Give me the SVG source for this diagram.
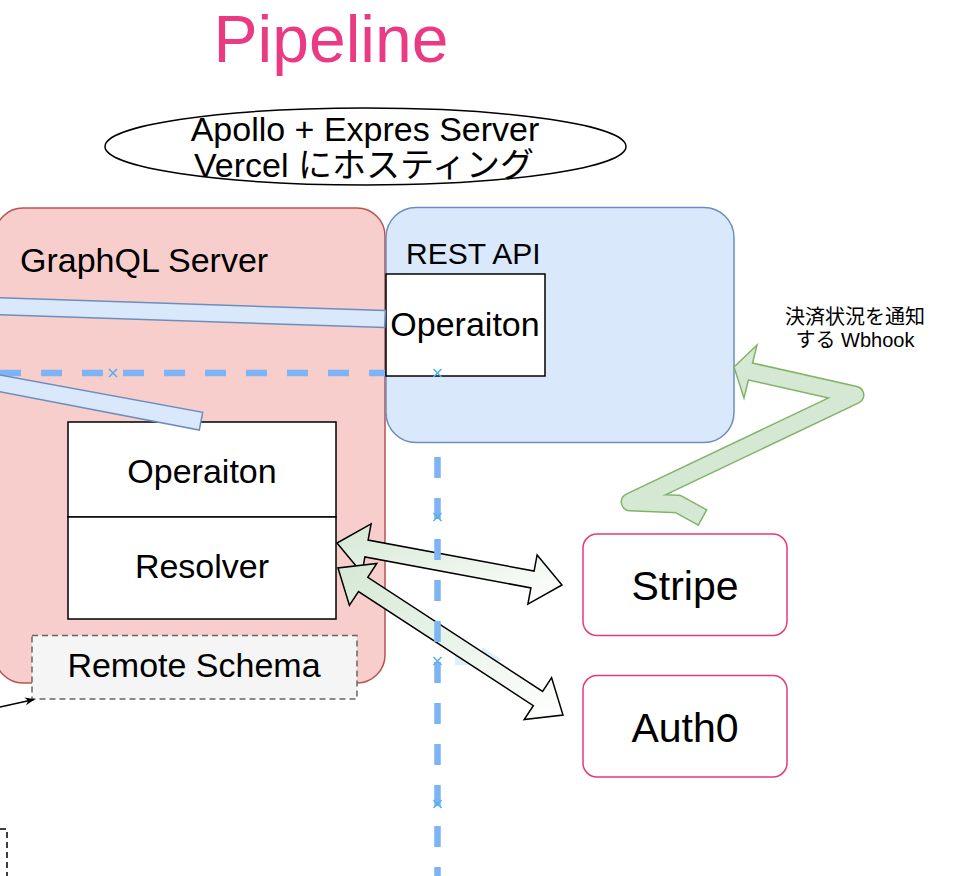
<svg xmlns="http://www.w3.org/2000/svg" width="972" height="876" viewBox="0 0 972 876">
<style>
text{font-family:"Liberation Sans","Noto Sans CJK JP",Arial,sans-serif;fill:#000}
.lbl{font-size:34px;text-anchor:middle}
.box{fill:#fff;stroke:#000;stroke-width:1.5}
.ext{fill:#fff;stroke:#E6397F;stroke-width:1.5}
.link{fill:#dae8fc;stroke:#6c8ebf;stroke-width:1.5}
.dash{stroke:#7db4f5;stroke-width:6.5;stroke-dasharray:21 20;fill:none}
.xm{stroke:#4fb0ec;stroke-width:1.5;fill:none}
.flex{stroke:#000;stroke-width:1.5;fill:url(#g)}
</style>
<defs>
<linearGradient id="g" x1="0" y1="0" x2="1" y2="1">
<stop offset="0" stop-color="#d5e8d4"/>
<stop offset="1" stop-color="#ffffff"/>
</linearGradient>
<path id="x" d="M-4 -4L4 4M4 -4L-4 4"/>
<marker id="ah" viewBox="0 0 10 10" refX="9" refY="5" markerWidth="10" markerHeight="10" markerUnits="userSpaceOnUse" orient="auto">
<path d="M0 1L10 5L0 9L3 5Z" fill="#000"/>
</marker>
</defs>

<g id="title">
<text x="331" y="62" style="font-size:66px;fill:#EA3A84;text-anchor:middle">Pipeline</text>
</g>

<g id="hosting">
<ellipse cx="365.5" cy="146.5" rx="260.5" ry="38.5" fill="#fff" stroke="#000" stroke-width="1.5"/>
<text class="lbl" x="365" y="141">Apollo + Expres Server</text>
<text class="lbl" x="364" y="177">Vercel にホスティング</text>
</g>

<g id="graphql-server">
<rect x="-5" y="208" width="390" height="475" rx="28" fill="#f8cecc" stroke="#b85450" stroke-width="1.5"/>
<text x="20" y="272" style="font-size:34px">GraphQL Server</text>
</g>

<g id="rest-api">
<rect x="386" y="207.5" width="348" height="235" rx="30" fill="#dae8fc" stroke="#6c8ebf" stroke-width="1.5"/>
<text x="406" y="264" style="font-size:30px">REST API</text>
</g>

<g id="rest-operation">
<rect class="box" x="386" y="274" width="159" height="102"/>
<text class="lbl" x="465" y="336">Operaiton</text>
</g>

<g id="gql-operation">
<rect class="box" x="68" y="422" width="268" height="95"/>
<text class="lbl" x="202" y="483">Operaiton</text>
</g>
<g id="gql-resolver">
<rect class="box" x="68" y="517" width="268" height="102"/>
<text class="lbl" x="202" y="578">Resolver</text>
</g>

<g id="remote-schema">
<rect x="32" y="635.5" width="325" height="63.5" fill="#f5f5f5" stroke="#666" stroke-width="1.5" stroke-dasharray="6 4"/>
<text class="lbl" x="194" y="677">Remote Schema</text>
</g>

<g id="stripe">
<rect class="ext" x="583" y="534" width="204" height="101.5" rx="14"/>
<text x="685" y="600" style="font-size:41px;text-anchor:middle">Stripe</text>
</g>
<g id="auth0">
<rect class="ext" x="583" y="675.5" width="204" height="101.5" rx="14"/>
<text x="685" y="742" style="font-size:41px;text-anchor:middle">Auth0</text>
</g>

<g id="offscreen-box">
<path d="M-10 829H7V880" fill="none" stroke="#000" stroke-width="1.5" stroke-dasharray="6 4"/>
</g>

<g id="connectors">
<line class="dash" x1="0" y1="373" x2="385" y2="373"/>
<polygon class="link" points="-5,297.5 385.3,310.5 384.7,327.5 -5,314.5"/>
<polygon class="link" points="-5,374 202.7,412.3 199.3,430 -5,390.8"/>
<polygon points="455,655 482,655 482,647 502,660 482,670 482,665 455,665" fill="#d3ecf5" opacity="0.8"/>
<polygon class="flex" points="337,543 361.9,573.1 364.9,556.9 530.9,587.9 527.9,604.1 562,585 537.1,554.9 534.1,571.1 368.1,540.1 371.1,523.9"/>
<polygon class="flex" points="338,568 349.4,605.3 358.5,591.5 533.3,705.7 524.2,719.5 563,715 551.6,677.7 542.6,691.5 367.8,577.3 376.8,563.5"/>
<line class="dash" x1="437.5" y1="457" x2="437.5" y2="880"/>
<line x1="0" y1="707" x2="34" y2="699.5" stroke="#000" stroke-width="1.5" marker-end="url(#ah)"/>
<g id="webhook">
<path d="M702.5 517.5L678 504L630 502L855 395L750.5 371.5" fill="none" stroke="#82b366" stroke-width="19" stroke-linejoin="round"/>
<polygon points="734,367 757,345 744,398" fill="#d5e8d4" stroke="#82b366" stroke-width="1.5" stroke-linejoin="miter"/>
<path d="M702.5 517.5L678 504L630 502L855 395L748 371" fill="none" stroke="#d5e8d4" stroke-width="16" stroke-linejoin="round"/>
<line x1="707.1" y1="509.2" x2="697.9" y2="525.8" stroke="#82b366" stroke-width="1.5"/>
</g>
<text x="855" y="324" style="font-size:20px;text-anchor:middle">決済状況を通知</text>
<text x="855" y="347" style="font-size:20px;text-anchor:middle">する Wbhook</text>
<g class="xm">
<use href="#x" x="113" y="373"/>
<use href="#x" x="437.5" y="373"/>
<use href="#x" x="437.5" y="517"/>
<use href="#x" x="437.5" y="661"/>
<use href="#x" x="437.5" y="804"/>
</g>
</g>
</svg>
